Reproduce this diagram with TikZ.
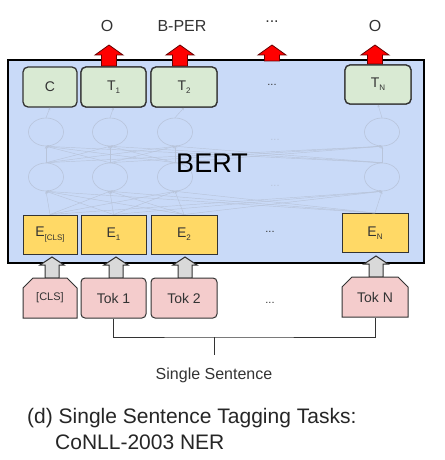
\documentclass[tikz,border=0pt]{standalone}
\usepackage{fontspec}
\setmainfont{Liberation Sans}
\usetikzlibrary{shapes.geometric,shapes.misc,arrows.meta}
\definecolor{bertblue}{HTML}{C9DAF8}
\definecolor{tgreen}{HTML}{D9EAD3}
\definecolor{eyellow}{HTML}{FFD966}
\definecolor{tokpink}{HTML}{F4CCCC}
\definecolor{arrgray}{HTML}{D9D9D9}
\definecolor{netcol}{RGB}{184,196,218}
\definecolor{txt}{HTML}{333333}
\newcommand\sbs[1]{\raisebox{-0.45ex}{\fontsize{8}{8}\selectfont #1}}
% style, x, tip, headbase, bottom, head half width, shaft half width
\newcommand\blockarrow[7]{\draw[#1] (#2-#7,#5) -- (#2-#7,#4) -- (#2-#6,#4) -- (#2,#3) -- (#2+#6,#4) -- (#2+#7,#4) -- (#2+#7,#5) -- cycle;}
\begin{document}
\begin{tikzpicture}[x=1pt,y=-1pt,
  bertbox/.style={draw=black, line width=2pt, fill=bertblue, inner sep=0pt, minimum width=416pt, minimum height=203pt},
  tbox/.style={draw=txt, line width=1.3pt, fill=tgreen, rounded corners=5pt, inner sep=0pt, minimum height=40pt, text=txt, font=\fontsize{14}{14}\selectfont},
  ebox/.style={draw=txt, line width=1pt, fill=eyellow, inner sep=0pt, minimum height=39pt, text=txt, font=\fontsize{14}{14}\selectfont},
  tokr/.style={draw=txt, line width=1pt, fill=tokpink, rounded corners=4pt, inner sep=0pt, minimum height=40pt, text=txt, font=\fontsize{14}{14}\selectfont},
  tokc/.style={chamfered rectangle, chamfered rectangle corners={north west,north east}, chamfered rectangle xsep=5pt, chamfered rectangle ysep=5pt, draw=txt, line width=1pt, fill=tokpink, inner sep=0pt, minimum height=40pt, text=txt, font=\fontsize{14}{14}\selectfont},
  neuron/.style={ellipse, draw=netcol, line width=0.6pt, minimum width=35pt, minimum height=28pt, inner sep=0pt},
  netline/.style={draw=netcol, line width=0.45pt, -{Stealth[length=2.5pt,width=2.5pt]}},
  redarr/.style={fill=red, draw=black!60!red, line width=0.8pt},
  grayarr/.style={fill=arrgray, draw=txt, line width=1pt},
  dots/.style={text=txt, font=\fontsize{11}{11}\selectfont},
  netdots/.style={text=netcol, font=\fontsize{11}{11}\selectfont},
  outlab/.style={text=txt, font=\fontsize{16}{16}\selectfont, anchor=base},
  bracket/.style={draw=txt, line width=1pt},
  caption/.style={text=black!85, font=\fontsize{21}{21}\selectfont, anchor=base west, inner sep=0pt}
]
\useasboundingbox (0,0) rectangle (444,460);
\fill[white] (0,0) rectangle (444,460);
% BERT box
\node[bertbox] (bert) at (216,161.5) {};
% faint network
\foreach \n/\x in {1/46,2/110,3/175,4/382}{
  \node[neuron] (u\n) at (\x,132) {};
  \node[neuron] (l\n) at (\x,177) {};
}
\node[netdots] (nd1) at (275,140) {...};
\node[netdots] (nd2) at (275,186) {...};
% top boxes
\node[tbox, minimum width=54pt] (c) at (50,87) {C};
\node[tbox, minimum width=65pt] (t1) at (113.5,87) {T\sbs{1}};
\node[tbox, minimum width=66pt] (t2) at (184,87) {T\sbs{2}};
\node[tbox, minimum width=66pt, minimum height=39pt] (tn) at (378,84.5) {T\sbs{N}};
\node[dots] (tdots) at (272,85) {...};
% embedding boxes
\node[ebox, minimum width=54pt] (ecls) at (50,234.5) {E\sbs{[CLS]}};
\node[ebox, minimum width=65pt] (e1) at (113.5,234.5) {E\sbs{1}};
\node[ebox, minimum width=66pt] (e2) at (184,234.5) {E\sbs{2}};
\node[ebox, minimum width=66pt] (en) at (375,233) {E\sbs{N}};
\node[dots] (edots) at (270,232) {...};
% network connections
\foreach \i in {1,...,4}{
  \foreach \j in {1,...,4}{
    \draw[netline] (l\i.north) -- (u\j.south);
  }
}
\foreach \e in {ecls,e1,e2,en}{
  \foreach \j in {1,...,4}{
    \draw[netline] (\e.north) -- (l\j.south);
  }
}
\draw[netline] (u1.north) -- (c.south);
\draw[netline] (u2.north) -- (t1.south);
\draw[netline] (u3.north) -- (t2.south);
\draw[netline] (u4.north) -- (tn.south);
\node[font=\fontsize{27}{27}\selectfont, inner sep=0pt] (bertlabel) at (212,163.5) {BERT};
% red output arrows
\blockarrow{redarr}{109}{45}{55}{66}{14}{7.5}
\blockarrow{redarr}{180}{45}{55}{66}{14}{7.5}
\blockarrow{redarr}{272}{45}{55}{61}{14}{7.5}
\blockarrow{redarr}{375}{45}{55}{64}{14}{7.5}
% redraw top boxes over arrows
\node[tbox, minimum width=65pt] at (t1) {T\sbs{1}};
\node[tbox, minimum width=66pt] at (t2) {T\sbs{2}};
\node[tbox, minimum width=66pt, minimum height=39pt] at (tn) {T\sbs{N}};
% output labels
\node[outlab] (o1) at (107,32) {O};
\node[outlab] (o2) at (182,32) {B-PER};
\node[outlab] (od) at (272,23) {...};
\node[outlab] (on) at (375,32) {O};
% gray input arrows
\blockarrow{grayarr}{52}{257}{265}{278}{12}{7}
\blockarrow{grayarr}{116}{257}{265}{278}{12}{7}
\blockarrow{grayarr}{185}{257}{265}{278}{12}{7}
\blockarrow{grayarr}{376}{256}{264}{277}{12}{7}
% token boxes
\node[tokc, minimum width=54pt, font=\fontsize{11}{11}\selectfont] (tcls) at (50,298) {[CLS]};
\node[tokr, minimum width=65pt] (tok1) at (113.5,298) {Tok 1};
\node[tokr, minimum width=66pt] (tok2) at (184,298) {Tok 2};
\node[tokc, minimum width=66pt] (tokn) at (375,297) {Tok N};
\node[dots] (kdots) at (270,303) {...};
% bracket
\coordinate (brk) at (214,337);
\coordinate (stem) at (214,355);
\draw[bracket] (tok1.south) |- (brk) -| (tokn.south);
\draw[bracket] (brk) -- (stem);
\node[outlab] (sent) at (214,379) {Single Sentence};
% caption
\node[caption] (cap1) at (27,423) {(d) Single Sentence Tagging Tasks:};
\node[caption] (cap2) at (55,449) {CoNLL-2003 NER};
\end{tikzpicture}
\end{document}
